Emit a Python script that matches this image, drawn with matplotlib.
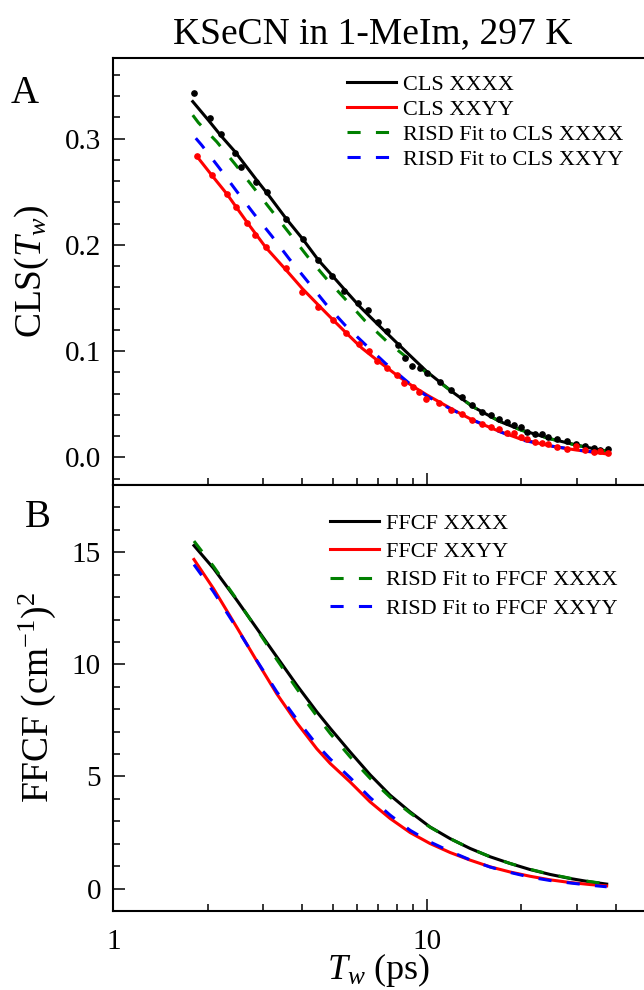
import matplotlib
matplotlib.use("Agg")
import matplotlib.pyplot as plt
from matplotlib.ticker import FixedLocator, MultipleLocator, NullFormatter

plt.rcParams["font.family"] = ["Liberation Serif", "DejaVu Serif"]
plt.rcParams["mathtext.fontset"] = "custom"
plt.rcParams["mathtext.rm"] = "Liberation Serif"
plt.rcParams["mathtext.it"] = "Liberation Serif:italic"

# measured CLS points, waiting time Tw in ps
tw_xxxx_pts = [1.80, 2.03, 2.21, 2.44, 2.56, 2.85, 3.09, 3.55, 4.01, 4.50, 4.97, 5.45,
               6.01, 6.50, 6.99, 7.45, 8.06, 8.52, 8.96, 9.48, 10.0, 11.0, 11.95, 12.97,
               13.9, 14.96, 16.0, 17.0, 17.96, 18.9, 19.9, 20.9, 22.1, 23.2, 24.3, 26.0,
               28.05, 29.9, 31.9, 34.0, 35.7, 37.8]
cls_xxxx_pts = [0.3426, 0.3197, 0.3044, 0.2868, 0.2730, 0.2595, 0.2495, 0.2244, 0.2053,
                0.1858, 0.1710, 0.1569, 0.1456, 0.1387, 0.1271, 0.1186, 0.1061, 0.0932,
                0.086, 0.0838, 0.0791, 0.0709, 0.0634, 0.0565, 0.0493, 0.0424, 0.0402,
                0.0361, 0.0336, 0.0304, 0.0282, 0.0242, 0.0223, 0.0217, 0.0195, 0.0173,
                0.0157, 0.0122, 0.011, 0.0088, 0.0069, 0.0075]
tw_xxyy_pts = [1.85, 2.06, 2.30, 2.46, 2.66, 2.83, 3.06, 3.55, 3.98, 4.50, 5.02, 5.50,
               6.07, 6.54, 6.95, 7.45, 8.0, 8.47, 9.0, 9.46, 9.95, 10.93, 11.89, 12.9,
               13.93, 14.96, 16.0, 17.0, 17.96, 18.9, 19.9, 20.9, 22.1, 23.2, 24.3, 26.0,
               28.05, 29.9, 31.9, 34.0, 35.7, 37.8]
cls_xxyy_pts = [0.2837, 0.2658, 0.2480, 0.2354, 0.2209, 0.2093, 0.1977, 0.1780, 0.1559,
                0.1418, 0.1293, 0.1168, 0.1067, 0.0998, 0.091, 0.0844, 0.0772, 0.0697,
                0.0665, 0.0618, 0.0546, 0.0508, 0.0446, 0.0405, 0.0351, 0.0314, 0.0289,
                0.0264, 0.0232, 0.0226, 0.0195, 0.0169, 0.0147, 0.0138, 0.0122, 0.0094,
                0.0075, 0.0107, 0.0069, 0.0053, 0.0063, 0.0038]

# panel A curves
tw_cls_xxxx = [1.79, 2.006, 2.214, 2.441, 2.862, 3.094, 3.549, 4.013, 4.501, 4.966, 5.476,
               6.113, 6.913, 8.0, 9.0, 10.0, 12.0, 14.0, 17.0, 20.0, 25.0, 30.0, 37.8]
cls_xxxx_line = [0.3350, 0.3176, 0.3020, 0.2878, 0.2611, 0.2485, 0.2250, 0.2056, 0.1858,
                 0.1717, 0.1575, 0.1418, 0.1262, 0.1080, 0.0935, 0.0806, 0.0620, 0.0477,
                 0.0340, 0.0257, 0.0172, 0.0116, 0.0053]
tw_cls_xxyy = [1.85, 2.06, 2.30, 2.66, 3.06, 3.55, 4.0, 4.5, 5.02, 5.54, 6.19, 7.0, 8.0,
               9.0, 10.0, 12.0, 14.0, 17.0, 20.0, 25.0, 30.0, 37.8]
cls_xxyy_line = [0.2830, 0.2655, 0.2480, 0.2218, 0.1977, 0.1765, 0.1590, 0.1435, 0.1293,
                 0.1168, 0.1030, 0.0905, 0.0775, 0.0670, 0.0587, 0.0455, 0.0350, 0.0245,
                 0.0170, 0.0105, 0.0069, 0.0031]
tw_risd_xxxx = [1.79, 1.865, 2.134, 2.441, 2.793, 3.196, 3.656, 4.18, 4.786, 5.544, 6.34,
                7.46, 8.5, 10.0, 12.0, 14.0, 17.0, 20.0, 25.0, 30.0, 37.8]
risd_cls_xxxx = [0.3222, 0.3152, 0.2972, 0.2762, 0.2542, 0.2322, 0.2103, 0.1883, 0.1679,
                 0.1475, 0.1286, 0.1089, 0.0955, 0.0794, 0.0620, 0.0477, 0.0342, 0.0255,
                 0.0171, 0.0113, 0.0058]
tw_risd_xxyy = [1.83, 1.911, 2.175, 2.472, 2.807, 3.196, 3.637, 4.164, 4.763, 5.476, 6.3,
                7.37, 8.78, 10.0, 12.0, 14.0, 17.0, 20.0, 25.0, 30.0, 37.8]
risd_cls_xxyy = [0.3005, 0.2940, 0.2725, 0.2505, 0.2292, 0.2085, 0.1868, 0.1655, 0.1442,
                 0.1245, 0.1073, 0.0885, 0.0697, 0.0575, 0.0450, 0.0352, 0.0244, 0.0164,
                 0.0106, 0.0070, 0.0035]

# panel B curves
tw_ffcf = [1.806, 2.082, 2.472, 2.862, 3.316, 3.84, 4.448, 4.91, 5.68, 6.58, 7.62, 8.83,
           10.22, 11.84, 13.72, 15.89, 18.4, 21.3, 24.7, 28.6, 33.1, 37.4]
ffcf_xxxx = [15.30, 14.29, 12.87, 11.61, 10.34, 9.08, 7.89, 7.15, 6.10, 5.08, 4.17, 3.42,
             2.75, 2.23, 1.79, 1.42, 1.12, 0.85, 0.63, 0.45, 0.30, 0.20]
ffcf_xxyy = [14.68, 13.39, 11.66, 10.16, 8.69, 7.40, 6.24, 5.58, 4.76, 3.87, 3.13, 2.50,
             2.01, 1.61, 1.27, 0.97, 0.74, 0.55, 0.39, 0.27, 0.18, 0.12]
risd_ffcf_xxxx = [15.50, 14.38, 12.90, 11.58, 10.22, 8.92, 7.70, 6.92, 5.88, 4.92, 4.08,
                  3.37, 2.74, 2.23, 1.79, 1.42, 1.12, 0.86, 0.64, 0.46, 0.31, 0.21]
risd_ffcf_xxyy = [14.45, 13.25, 11.62, 10.18, 8.78, 7.55, 6.42, 5.78, 4.95, 4.06, 3.28,
                  2.60, 2.08, 1.66, 1.28, 0.96, 0.72, 0.51, 0.36, 0.25, 0.15, 0.08]

x_ticks = [1, 10]
x_minor = [2, 3, 4, 5, 6, 7, 8, 9, 20, 30, 40]

fig = plt.figure(figsize=(6.44, 9.9), dpi=100)
ax1 = fig.add_axes([0.1762, 0.5101, 0.8238, 0.4313])
ax2 = fig.add_axes([0.1762, 0.0798, 0.8238, 0.4303], sharex=ax1)

lw = 2.2
dash = (0, (4.3, 5.0))

ax1.plot(tw_cls_xxxx, cls_xxxx_line, color="black", lw=lw, label="CLS XXXX")
ax1.plot(tw_cls_xxyy, cls_xxyy_line, color="red", lw=lw, label="CLS XXYY")
ax1.plot(tw_risd_xxxx, risd_cls_xxxx, color="green", lw=lw, ls=dash, label="RISD Fit to CLS XXXX")
ax1.plot(tw_risd_xxyy, risd_cls_xxyy, color="blue", lw=lw, ls=dash, label="RISD Fit to CLS XXYY")
ax1.plot(tw_xxxx_pts, cls_xxxx_pts, "o", color="black", ms=3.8, zorder=3)
ax1.plot(tw_xxyy_pts, cls_xxyy_pts, "o", color="red", ms=3.8, zorder=3)

ax2.plot(tw_ffcf, ffcf_xxxx, color="black", lw=lw, label="FFCF XXXX")
ax2.plot(tw_ffcf, ffcf_xxyy, color="red", lw=lw, label="FFCF XXYY")
ax2.plot(tw_ffcf, risd_ffcf_xxxx, color="green", lw=lw, ls=dash, label="RISD Fit to FFCF XXXX")
ax2.plot(tw_ffcf, risd_ffcf_xxyy, color="blue", lw=lw, ls=dash, label="RISD Fit to FFCF XXYY")

ax1.set_xscale("log")
ax1.set_xlim(1, 49.2)
ax1.set_ylim(-0.026, 0.376)
ax2.set_ylim(-1, 18)

ax1.yaxis.set_major_locator(MultipleLocator(0.1))
ax1.yaxis.set_minor_locator(MultipleLocator(0.02))
ax1.yaxis.set_major_formatter(plt.FuncFormatter(lambda v, p: f"{v:.1f}"))
ax2.yaxis.set_major_locator(MultipleLocator(5))
ax2.yaxis.set_minor_locator(MultipleLocator(1))

for ax in (ax1, ax2):
    ax.xaxis.set_major_locator(FixedLocator(x_ticks))
    ax.xaxis.set_minor_locator(FixedLocator(x_minor))
    ax.xaxis.set_minor_formatter(NullFormatter())
    ax.tick_params(which="major", direction="in", length=8.5, width=1.1, labelsize=21)
    ax.tick_params(which="minor", direction="in", length=5, width=1.1)
    ax.tick_params(axis="y", which="major", pad=9)
    ax.tick_params(axis="x", which="major", pad=13)
    ax.spines["right"].set_visible(False)
    for s in ("left", "top", "bottom"):
        ax.spines[s].set_linewidth(1.5)

ax1.tick_params(axis="x", which="both", labelbottom=False)
ax2.xaxis.set_major_formatter(plt.FuncFormatter(lambda v, p: f"{v:g}"))

ax1.set_ylabel("CLS($T_w$)", fontsize=27, labelpad=10)
ax2.set_ylabel("FFCF (cm$^{\\mathregular{-1}}$)$^{\\mathregular{2}}$", fontsize=27, labelpad=10)
ax2.set_xlabel("$T_w$ (ps)", fontsize=26, labelpad=-3)
fig.text(0.579, 0.9566, "KSeCN in 1-MeIm, 297 K", fontsize=27, ha="center", va="baseline")

fig.text(0.016, 0.896, "A", fontsize=28, va="baseline")
fig.text(0.039, 0.4677, "B", fontsize=28, va="baseline")

ax1.legend(loc="upper left", bbox_to_anchor=(0.4407, 0.961), frameon=False, fontsize=16,
           borderpad=0, borderaxespad=0, handlelength=2.2, handletextpad=0.3,
           labelspacing=0.2)
ax2.legend(loc="upper left", bbox_to_anchor=(0.4087, 0.934), frameon=False, fontsize=16,
           borderpad=0, borderaxespad=0, handlelength=2.2, handletextpad=0.3,
           labelspacing=0.35)

fig.savefig("out.png", dpi=100)
